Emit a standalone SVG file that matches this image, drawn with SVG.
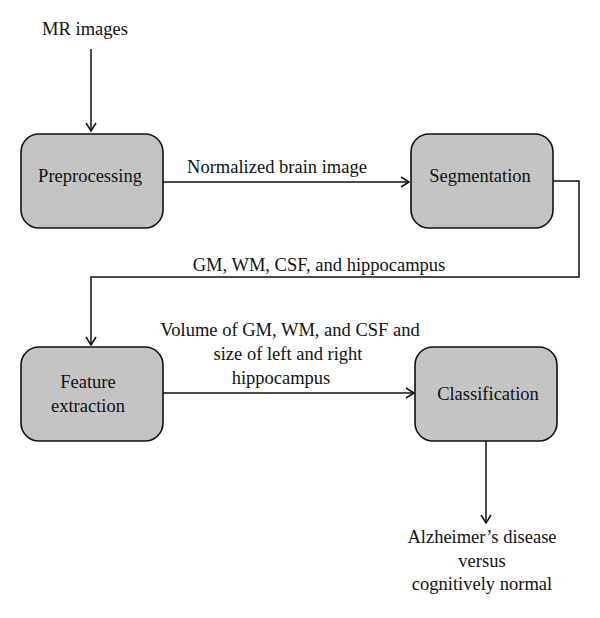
<svg xmlns="http://www.w3.org/2000/svg" width="600" height="618" viewBox="0 0 600 618">
<style>
text{font-family:"Liberation Serif","Times New Roman",serif;font-size:18.5px;fill:#111}
.box{fill:#c4c4c4;stroke:#111;stroke-width:1.6}
.c{fill:none;stroke:#111;stroke-width:1.5}
.m{text-anchor:middle}
</style>
<defs>
<marker id="arr" viewBox="0 0 10 12" refX="9" refY="6" markerWidth="10" markerHeight="12" markerUnits="userSpaceOnUse" orient="auto">
<path d="M1,1 L9,6 L1,11" fill="none" stroke="#111" stroke-width="1.5"/>
</marker>
</defs>
<rect width="600" height="618" fill="#fff"/>
<g id="connectors">
<path class="c" d="M91,49 V131" marker-end="url(#arr)"/>
<path class="c" d="M163,182 H409" marker-end="url(#arr)"/>
<path class="c" d="M553,181 H579 V277 H91 V345" marker-end="url(#arr)"/>
<path class="c" d="M163,393 H414" marker-end="url(#arr)"/>
<path class="c" d="M486,441 V523" marker-end="url(#arr)"/>
<text class="m" x="277" y="173">Normalized brain image</text>
<text class="m" x="319" y="271">GM, WM, CSF, and hippocampus</text>
<text class="m" x="290" y="336">Volume of GM, WM, and CSF and</text>
<text class="m" x="288" y="360">size of left and right</text>
<text class="m" x="281" y="384">hippocampus</text>
</g>
<g id="mr-images"><text class="m" x="85" y="35">MR images</text></g>
<g id="preprocessing">
<rect class="box" x="21" y="134" width="142" height="94" rx="18"/>
<text class="m" x="90" y="182">Preprocessing</text>
</g>
<g id="segmentation">
<rect class="box" x="411" y="134" width="142" height="94" rx="18"/>
<text class="m" x="480" y="182">Segmentation</text>
</g>
<g id="feature-extraction">
<rect class="box" x="21" y="347" width="142" height="94" rx="18"/>
<text class="m" x="88" y="388">Feature</text>
<text class="m" x="88" y="412">extraction</text>
</g>
<g id="classification">
<rect class="box" x="415" y="347" width="142" height="94" rx="18"/>
<text class="m" x="488" y="400">Classification</text>
</g>
<g id="output">
<text class="m" x="482" y="543">Alzheimer’s disease</text>
<text class="m" x="482" y="567">versus</text>
<text class="m" x="482" y="590">cognitively normal</text>
</g>
</svg>
